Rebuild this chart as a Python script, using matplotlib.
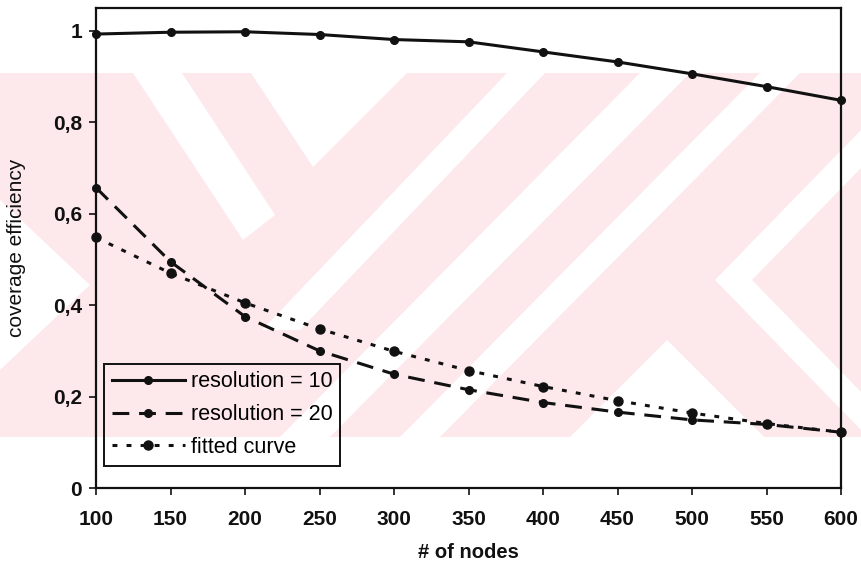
import matplotlib
matplotlib.use("Agg")
import matplotlib.pyplot as plt
from matplotlib.patches import Polygon, Rectangle

plt.rcParams['font.family'] = ['Liberation Sans', 'DejaVu Sans']

nodes = [100, 150, 200, 250, 300, 350, 400, 450, 500, 550, 600]
res10 = [0.993, 0.997, 0.998, 0.992, 0.981, 0.976, 0.954, 0.932, 0.906, 0.878, 0.848]
res20 = [0.657, 0.495, 0.375, 0.300, 0.249, 0.215, 0.187, 0.166, 0.149, 0.139, 0.122]
fitted = [0.548, 0.470, 0.405, 0.348, 0.299, 0.257, 0.222, 0.191, 0.164, 0.141, 0.122]
yticks = [0, 0.2, 0.4, 0.6, 0.8, 1.0]
ytick_labels = ["0", "0,2", "0,4", "0,6", "0,8", "1"]
labels = ["resolution = 10", "resolution = 20", "fitted curve"]

W, H = 861, 569
fig = plt.figure(figsize=(W / 100, H / 100), dpi=100)

# background watermark (decorative)
bg = fig.add_axes([0, 0, 1, 1], zorder=0)
bg.set_xlim(0, W)
bg.set_ylim(H, 0)
bg.axis('off')
pink = '#fde8ec'
bg.add_patch(Rectangle((0, 73), W, 364, facecolor=pink, edgecolor='none'))
white_shapes = [
    [(133, 73), (182, 73), (275, 215), (243, 240)],
    [(251, 73), (407, 73), (313, 167)],
    [(507, 73), (545, 73), (300, 330), (262, 330)],
    [(640, 73), (690, 73), (330, 437), (280, 437)],
    [(760, 73), (800, 73), (440, 437), (400, 437)],
    [(667, 340), (764, 437), (570, 437)],
    [(861, 130), (861, 168), (752, 280), (861, 392), (861, 430), (715, 280)],
    [(0, 200), (90, 285), (0, 370)],
]
for pts in white_shapes:
    bg.add_patch(Polygon(pts, closed=True, facecolor='white', edgecolor='none'))

left, right, top, bottom = 96, 841, 8, 488
ax = fig.add_axes([left / W, 1 - bottom / H, (right - left) / W, (bottom - top) / H], zorder=1)
ax.set_facecolor('none')

ink = '#111111'
ax.plot(nodes, res10, color=ink, lw=2.2, marker='o', ms=5.5, clip_on=False, label=labels[0], zorder=3)
ax.plot(nodes, res20, color=ink, lw=2.2, marker='o', ms=5.5, clip_on=False, label=labels[1],
        dashes=(5.5, 3.2), zorder=3)
ax.plot(nodes, fitted, color=ink, lw=2.2, marker='o', ms=6.5, clip_on=False, label=labels[2],
        dashes=(1.6, 3.0), zorder=3)

ax.set_xlim(100, 600)
ax.set_ylim(0, 1.05)
ax.set_xticks(nodes)
ax.set_xticklabels([str(n) for n in nodes])
ax.set_yticks(yticks)
ax.set_yticklabels(ytick_labels)
for s in ax.spines.values():
    s.set_linewidth(1.6)
    s.set_color(ink)
ax.tick_params(axis='both', direction='out', length=5, width=1.2, color=ink,
               labelsize=15, labelcolor=ink)
ax.tick_params(axis='x', pad=10.5)
ax.tick_params(axis='y', pad=5)
for t in ax.get_xticklabels() + ax.get_yticklabels():
    t.set_fontweight('bold')

fig.text(468 / W, 1 - 553 / H, "# of nodes", ha='center', va='center', fontsize=14.5,
         fontweight='bold', color=ink)
fig.text(17 / W, 1 - 248 / H, "coverage efficiency", ha='center', va='center', fontsize=15,
         rotation=90, color=ink)

leg = ax.legend(loc='lower left', bbox_to_anchor=((104 - left) / (right - left), (bottom - 465.5) / (bottom - top)),
                borderaxespad=0, fontsize=15.5, frameon=True, fancybox=False, framealpha=1,
                handlelength=3.4, handletextpad=0.3, borderpad=0.35, labelspacing=0.55)
leg.get_frame().set_facecolor('none')
leg.get_frame().set_edgecolor(ink)
leg.get_frame().set_linewidth(1.4)

fig.savefig("out.png", dpi=100)
